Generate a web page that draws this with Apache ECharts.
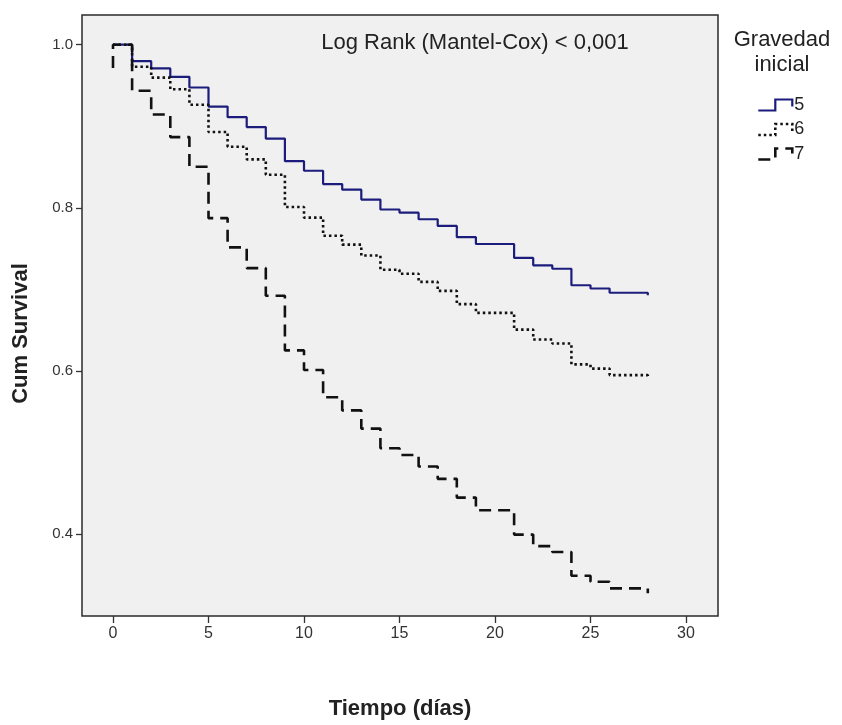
<!DOCTYPE html>
<html><head><meta charset="utf-8">
<script src="https://cdn.jsdelivr.net/npm/echarts@6/dist/echarts.min.js"></script>
<style>html,body{margin:0;padding:0;background:#fff}#c{width:842px;height:725px}</style>
</head><body><div id="c"></div>
<script>
// ---- data ----
const xTicks = [0, 5, 10, 15, 20, 25, 30];
const yTicks = [0.4, 0.6, 0.8, 1.0];
const groupNames = ['5', '6', '7'];

const days5 = [0,1,2,3,4,5,6,7,8,9,10,11,12,13,14,15,16,17,18,19,21,22,23,24,25,26,28,28];
const surv5 = [1.0,0.9798,0.9709,0.9606,0.9475,0.9241,0.9111,0.8990,0.8849,0.8572,0.8454,0.8291,0.8222,0.8100,0.7979,0.7940,0.7859,0.7778,0.7640,0.7556,0.7385,0.7294,0.7252,0.7050,0.7010,0.6958,0.6958,0.6927];

const days6 = [0,1,2,3,4,5,6,7,8,9,10,11,12,13,14,15,16,17,18,19,21,22,23,24,25,26,28,28];
const surv6 = [1.0,0.9729,0.9596,0.9454,0.9264,0.8929,0.8748,0.8594,0.8405,0.8009,0.7879,0.7657,0.7548,0.7415,0.7240,0.7191,0.7091,0.6981,0.6819,0.6711,0.6506,0.6385,0.6336,0.6080,0.6028,0.5948,0.5948,0.5913];

const days7 = [0,0,1,2,3,4,5,6,7,8,9,10,11,12,13,14,15,16,17,18,19,21,22,23,24,25,26,28,28];
const surv7 = [0.9714,1.0,0.9435,0.9143,0.8867,0.8503,0.7873,0.7515,0.7260,0.6921,0.6251,0.6011,0.5677,0.5515,0.5292,0.5051,0.4969,0.4828,0.4676,0.4446,0.4291,0.3992,0.3851,0.3779,0.3487,0.3414,0.3333,0.3333,0.3274];

const logRankText = 'Log Rank (Mantel-Cox) < 0,001';
const legendTitle = 'Gravedad\ninicial';
const xName = 'Tiempo (días)';
const yName = 'Cum Survival';

// ---- build ----
const pair = (xs, ys) => xs.map((x, i) => [x, ys[i]]);
const colors = ['#1c1c7c', '#111111', '#111111'];
const dashes = ['solid', [2.5, 3], [12, 7]];
const widths = [2.2, 2.6, 2.6];
const stepIcon = 'path://M0,11L17,11L17,0L34,0L34,7';

const font = "'Liberation Sans', Arial, sans-serif";

const chart = echarts.init(document.getElementById('c'), null, {renderer: 'canvas'});
chart.setOption({
  backgroundColor: '#ffffff',
  animation: false,
  title: [
    {text: logRankText, left: 470, top: 27, textAlign: 'center',
     textStyle: {fontFamily: font, fontSize: 22, fontWeight: 'normal', color: '#222'}},
    {text: legendTitle, left: 777, top: 22, textAlign: 'center',
     textStyle: {fontFamily: font, fontSize: 22, fontWeight: 'normal', color: '#222', lineHeight: 25}}
  ],
  legend: {
    orient: 'vertical', left: 757, top: 96, padding: 0, itemWidth: 34, itemHeight: 11, itemGap: 6.5,
    textStyle: {fontFamily: font, fontSize: 18, color: '#222', padding: [0, 0, 0, -3]},
    data: groupNames.map((n, i) => ({
      name: n, icon: stepIcon,
      itemStyle: {color: 'rgba(0,0,0,0)', borderColor: colors[i], borderWidth: widths[i], borderType: dashes[i]}
    }))
  },
  grid: {left: 82, right: 124, top: 15, bottom: 102.5, show: true,
         backgroundColor: '#f0f0f0', borderColor: '#2a2a2a', borderWidth: 1.5},
  xAxis: {
    type: 'value', min: -1.623, max: 31.675,
    name: xName, nameLocation: 'middle', nameGap: 82,
    nameTextStyle: {fontFamily: font, fontSize: 22, fontWeight: 'bold', color: '#222'},
    axisLine: {show: false, onZero: false}, splitLine: {show: false},
    axisTick: {show: true, customValues: xTicks, length: 7, lineStyle: {color: '#333', width: 1.3}},
    axisLabel: {customValues: xTicks, margin: 10, fontFamily: font, fontSize: 16, color: '#333'}
  },
  yAxis: {
    type: 'value', min: 0.2994, max: 1.0364,
    name: yName, nameLocation: 'middle', nameGap: 50, nameRotate: 90,
    nameTextStyle: {fontFamily: font, fontSize: 22, fontWeight: 'bold', color: '#222', padding: [0, 36, 0, 0]},
    axisLine: {show: false, onZero: false}, splitLine: {show: false},
    axisTick: {show: true, customValues: yTicks, length: 6, lineStyle: {color: '#333', width: 1.3}},
    axisLabel: {customValues: yTicks, margin: 9, fontFamily: font, fontSize: 15, color: '#333',
                formatter: v => v.toFixed(1)}
  },
  series: [
    {name: groupNames[0], type: 'line', step: 'end', showSymbol: false, symbol: 'none',
     data: pair(days5, surv5), z: 2,
     lineStyle: {color: colors[0], width: widths[0], type: dashes[0]}, itemStyle: {color: colors[0]}},
    {name: groupNames[1], type: 'line', step: 'end', showSymbol: false, symbol: 'none',
     data: pair(days6, surv6), z: 3,
     lineStyle: {color: colors[1], width: widths[1], type: dashes[1]}, itemStyle: {color: colors[1]}},
    {name: groupNames[2], type: 'line', step: 'end', showSymbol: false, symbol: 'none',
     data: pair(days7, surv7), z: 4,
     lineStyle: {color: colors[2], width: widths[2], type: dashes[2]}, itemStyle: {color: colors[2]}}
  ]
});
</script>
</body></html>
